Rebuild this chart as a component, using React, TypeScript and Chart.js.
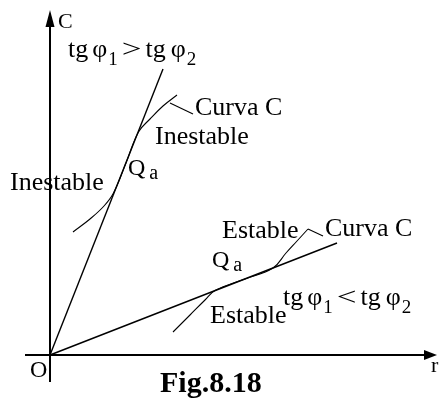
import { useEffect, useRef } from "react";
import { Chart, registerables } from "chart.js";

Chart.register(...registerables);

// Diagram units: r along the horizontal axis, C along the vertical axis (origin at O).
const steepLine = [
  { x: 0, y: 0 },
  { x: 11.3, y: 28.6 },
];
const flatLine = [
  { x: 0, y: 0 },
  { x: 28.7, y: 11.2 },
];
const upperCurve = [
  { x: 2.3, y: 12.3 },
  { x: 4.0, y: 13.6 },
  { x: 5.4, y: 14.9 },
  { x: 6.35, y: 16.2 },
  { x: 7.6, y: 19.2 },
  { x: 8.85, y: 22.3 },
  { x: 10.0, y: 23.6 },
  { x: 11.3, y: 24.9 },
  { x: 12.7, y: 26.0 },
];
const lowerCurve = [
  { x: 12.3, y: 2.3 },
  { x: 14.0, y: 4.0 },
  { x: 15.5, y: 5.5 },
  { x: 16.5, y: 6.45 },
  { x: 19.5, y: 7.6 },
  { x: 22.3, y: 8.7 },
  { x: 23.6, y: 10.2 },
  { x: 24.7, y: 11.4 },
  { x: 25.8, y: 12.6 },
];
const upperLeader = [
  { x: 12.0, y: 25.2 },
  { x: 14.3, y: 24.1 },
];
const lowerLeader = [
  { x: 25.8, y: 12.6 },
  { x: 27.3, y: 11.9 },
];
const cAxis = [
  { x: 0, y: -2.7 },
  { x: 0, y: 33.5 },
];
const rAxis = [
  { x: -2.5, y: 0 },
  { x: 38.0, y: 0 },
];
const cAxisTip = { x: 0, y: 34.5 };
const rAxisTip = { x: 38.7, y: 0 };

type Run = { t: string; sub?: boolean; gap?: number; sx?: number; rel?: number; drop?: number };
type Label = { x: number; y: number; size: number; bold?: boolean; runs: Run[] };

const slopeRuns = (cmp: string): Run[] => [
  { t: "tg" },
  { t: "φ", gap: 4 },
  { t: "1", sub: true, gap: 1 },
  { t: cmp, gap: 4, sx: 1.35 },
  { t: "tg", gap: 4 },
  { t: "φ", gap: 5 },
  { t: "2", sub: true, gap: 1 },
];

const qaRuns: Run[] = [{ t: "Q" }, { t: "a", gap: 4, rel: 0.85, drop: 0.18 }];

const labels: Label[] = [
  { x: 0.8, y: 32.7, size: 22, runs: [{ t: "C" }] },
  { x: 1.8, y: 29.8, size: 26, runs: slopeRuns(">") },
  { x: 14.5, y: 24.0, size: 26, runs: [{ t: "Curva C" }] },
  { x: 10.5, y: 21.1, size: 26, runs: [{ t: "Inestable" }] },
  { x: 7.8, y: 18.0, size: 24, runs: qaRuns },
  { x: -4.0, y: 16.5, size: 26, runs: [{ t: "Inestable" }] },
  { x: 17.2, y: 11.7, size: 26, runs: [{ t: "Estable" }] },
  { x: 27.5, y: 11.9, size: 26, runs: [{ t: "Curva C" }] },
  { x: 16.2, y: 8.8, size: 24, runs: qaRuns },
  { x: 16.0, y: 3.2, size: 26, runs: [{ t: "Estable" }] },
  { x: 23.3, y: 5.0, size: 26, runs: slopeRuns("<") },
  { x: -2.0, y: -2.2, size: 24, runs: [{ t: "O" }] },
  { x: 11.0, y: -3.7, size: 30, bold: true, runs: [{ t: "Fig.8.18" }] },
  { x: 38.1, y: -1.7, size: 22, runs: [{ t: "r" }] },
];

const FONT = '"Liberation Serif", "DejaVu Serif", serif';

const lineSet = (data: { x: number; y: number }[], width: number, tension = 0) => ({
  data,
  showLine: true,
  borderColor: "#000",
  borderWidth: width,
  pointRadius: 0,
  tension,
  fill: false,
});

const diagramPlugin = {
  id: "diagramDecor",
  afterDatasetsDraw(chart: Chart) {
    const { ctx } = chart;
    const xs = chart.scales.x;
    const ys = chart.scales.y;
    const px = (v: number) => xs.getPixelForValue(v);
    const py = (v: number) => ys.getPixelForValue(v);

    ctx.save();
    ctx.fillStyle = "#000";

    // Arrowheads at the end of both axes
    const ct = { x: px(cAxisTip.x), y: py(cAxisTip.y) };
    ctx.beginPath();
    ctx.moveTo(ct.x, ct.y);
    ctx.lineTo(ct.x - 4.5, ct.y + 17);
    ctx.lineTo(ct.x + 4.5, ct.y + 17);
    ctx.closePath();
    ctx.fill();

    const rt = { x: px(rAxisTip.x), y: py(rAxisTip.y) };
    ctx.beginPath();
    ctx.moveTo(rt.x, rt.y);
    ctx.lineTo(rt.x - 13, rt.y - 5);
    ctx.lineTo(rt.x - 13, rt.y + 5);
    ctx.closePath();
    ctx.fill();

    // Text labels
    ctx.textBaseline = "alphabetic";
    ctx.textAlign = "left";
    for (const lb of labels) {
      let x = px(lb.x);
      const base = py(lb.y);
      for (const run of lb.runs) {
        x += run.gap ?? 0;
        const rel = run.rel ?? (run.sub ? 0.72 : 1);
        const drop = run.drop ?? (run.sub ? 0.3 : 0);
        const size = Math.round(lb.size * rel);
        ctx.font = `${lb.bold ? "bold " : ""}${size}px ${FONT}`;
        const y = base + lb.size * drop;
        const w = ctx.measureText(run.t).width;
        const sx = run.sx ?? 1;
        if (sx !== 1) {
          ctx.save();
          ctx.translate(x, y);
          ctx.scale(sx, 1);
          ctx.fillText(run.t, 0, 0);
          ctx.restore();
        } else {
          ctx.fillText(run.t, x, y);
        }
        x += w * sx;
      }
    }
    ctx.restore();
  },
};

export default function App() {
  const canvasRef = useRef<HTMLCanvasElement | null>(null);

  useEffect(() => {
    const canvas = canvasRef.current;
    if (!canvas) return;
    const chart = new Chart(canvas, {
      type: "scatter",
      data: {
        datasets: [
          lineSet(cAxis, 2),
          lineSet(rAxis, 2),
          lineSet(steepLine, 1.4),
          lineSet(flatLine, 1.4),
          lineSet(upperCurve, 1.1, 0.4),
          lineSet(lowerCurve, 1.1, 0.4),
          lineSet(upperLeader, 1.1),
          lineSet(lowerLeader, 1.1),
        ],
      },
      options: {
        animation: false,
        responsive: false,
        devicePixelRatio: 1,
        layout: { padding: 0 },
        plugins: {
          legend: { display: false },
          tooltip: { enabled: false },
        },
        events: [],
        scales: {
          x: { type: "linear", min: -5, max: 39.1, display: false },
          y: { type: "linear", min: -4.6, max: 35.5, display: false },
        },
      },
      plugins: [diagramPlugin],
    });
    return () => chart.destroy();
  }, []);

  return (
    <div style={{ position: "fixed", left: 0, top: 0, width: 441, height: 401, background: "#fff" }}>
      <canvas ref={canvasRef} width={441} height={401} />
    </div>
  );
}
